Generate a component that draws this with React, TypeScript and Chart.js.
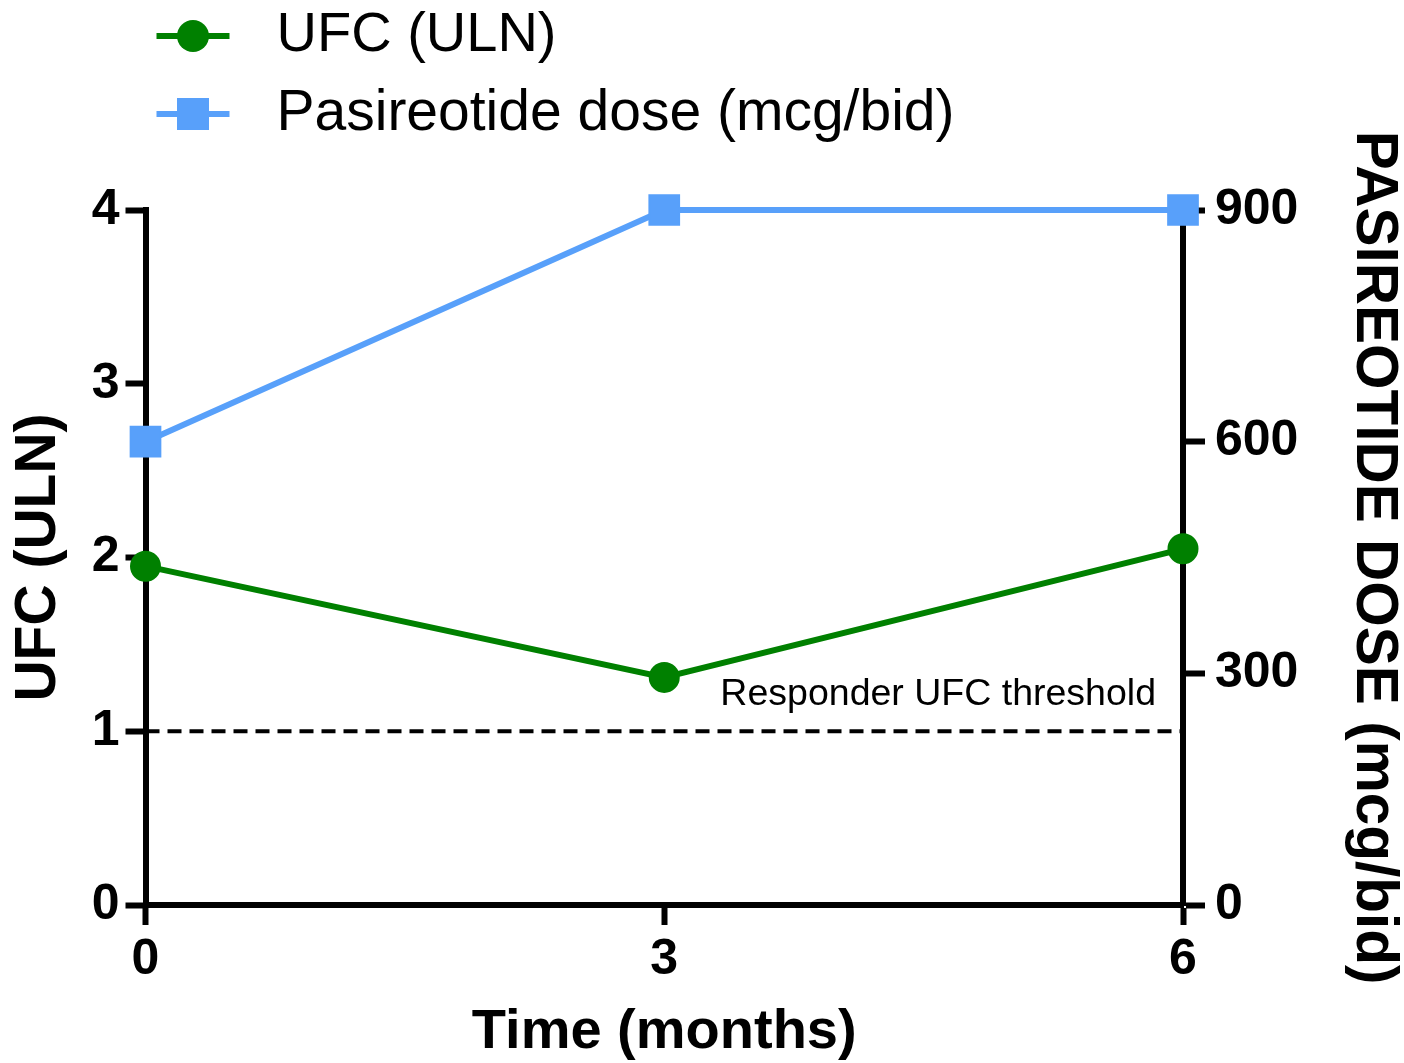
import React, { useEffect, useRef } from 'react';
import { Chart, registerables } from 'chart.js';

Chart.register(...registerables);

// ---- data ----
const months = [0, 3, 6];
const ufcValues = [1.95, 1.31, 2.05];
const doseValues = [600, 900, 900];
const monthTicks = [0, 3, 6];
const ufcTicks = [0, 1, 2, 3, 4];
const doseTicks = [0, 300, 600, 900];
const thresholdValue = 1;
const thresholdLabel = 'Responder UFC threshold';
const seriesLabels = ['UFC (ULN)', 'Pasireotide dose (mcg/bid)'];
const xTitle = 'Time (months)';
const yTitle = 'UFC (ULN)';
const y1Title = 'PASIREOTIDE DOSE (mcg/bid)';

const GREEN = '#008000';
const BLUE = 'rgb(88,160,250)';
const FONT = "'Liberation Sans', Arial, sans-serif";

const legendPlugin = {
  id: 'customLegend',
  afterDraw(chart: any) {
    const { ctx, chartArea } = chart;
    const left = chartArea.left;
    const rows = [36, 114];
    const sizes = [56, 57];
    chart.data.datasets.forEach((ds: any, i: number) => {
      const y = rows[i];
      const x1 = left + 11;
      const x2 = left + 84;
      const cx = (x1 + x2) / 2;
      ctx.save();
      ctx.strokeStyle = ds.borderColor;
      ctx.lineWidth = 6;
      ctx.beginPath();
      ctx.moveTo(x1, y);
      ctx.lineTo(x2, y);
      ctx.stroke();
      ctx.fillStyle = ds.pointBackgroundColor;
      if (ds.pointStyle === 'rect') {
        ctx.fillRect(cx - 16, y - 16, 32, 32);
      } else {
        ctx.beginPath();
        ctx.arc(cx, y, 16, 0, Math.PI * 2);
        ctx.fill();
      }
      ctx.fillStyle = '#000';
      ctx.font = `${sizes[i]}px ${FONT}`;
      ctx.textAlign = 'left';
      ctx.textBaseline = 'middle';
      ctx.fillText(ds.label, left + 131, y);
      ctx.restore();
    });
  },
};

const thresholdPlugin = {
  id: 'threshold',
  beforeDatasetsDraw(chart: any) {
    const { ctx, chartArea, scales } = chart;
    const y = scales.y.getPixelForValue(thresholdValue);
    ctx.save();
    ctx.strokeStyle = '#000';
    ctx.lineWidth = 4;
    ctx.setLineDash([14, 8]);
    ctx.beginPath();
    ctx.moveTo(chartArea.left, y);
    ctx.lineTo(chartArea.right, y);
    ctx.stroke();
    ctx.setLineDash([]);
    ctx.fillStyle = '#000';
    ctx.font = `37.5px ${FONT}`;
    ctx.textAlign = 'right';
    ctx.textBaseline = 'middle';
    ctx.fillText(thresholdLabel, chartArea.right - 27, y - 37);
    ctx.restore();
  },
};

const axisCommon = (tickLength: number) => ({
  grid: {
    display: true,
    drawOnChartArea: false,
    drawTicks: true,
    tickLength,
    tickWidth: 6,
    tickColor: '#000',
    color: '#000',
  },
  border: { display: true, width: 6, color: '#000' },
});

export default function App() {
  const canvasRef = useRef<HTMLCanvasElement | null>(null);

  useEffect(() => {
    document.body.style.margin = '0';
    document.body.style.overflow = 'hidden';
    const canvas = canvasRef.current;
    if (!canvas) return;
    const chart = new Chart(canvas, {
      type: 'line',
      data: {
        datasets: [
          {
            label: seriesLabels[0],
            data: months.map((m, i) => ({ x: m, y: ufcValues[i] })),
            yAxisID: 'y',
            borderColor: GREEN,
            backgroundColor: GREEN,
            pointBackgroundColor: GREEN,
            pointBorderColor: GREEN,
            pointStyle: 'circle',
            pointRadius: 14,
            pointBorderWidth: 3,
            borderWidth: 6,
            tension: 0,
            clip: false,
          } as any,
          {
            label: seriesLabels[1],
            data: months.map((m, i) => ({ x: m, y: doseValues[i] })),
            yAxisID: 'y1',
            borderColor: BLUE,
            backgroundColor: BLUE,
            pointBackgroundColor: BLUE,
            pointBorderColor: BLUE,
            pointStyle: 'rect',
            pointRadius: 21,
            pointBorderWidth: 2,
            borderWidth: 6,
            tension: 0,
            clip: false,
          } as any,
        ],
      },
      options: {
        animation: false,
        responsive: false,
        maintainAspectRatio: false,
        layout: { padding: { top: 210, left: 0, right: 0, bottom: 0 } },
        plugins: {
          legend: { display: false },
          tooltip: { enabled: false },
        },
        scales: {
          x: {
            type: 'linear',
            min: 0,
            max: 6,
            ...axisCommon(20),
            afterBuildTicks: (s: any) => {
              s.ticks = monthTicks.map((v) => ({ value: v }));
            },
            afterFit: (s: any) => {
              s.height = 158;
            },
            ticks: {
              color: '#000',
              font: { family: FONT, size: 50, weight: 'bold' },
              padding: 5,
              maxRotation: 0,
            },
            title: {
              display: true,
              text: xTitle,
              color: '#000',
              font: { family: FONT, size: 56, weight: 'bold', lineHeight: 1 },
              padding: { top: 0, bottom: 2 },
            },
          },
          y: {
            type: 'linear',
            position: 'left',
            min: 0,
            max: 4,
            ...axisCommon(20),
            afterBuildTicks: (s: any) => {
              s.ticks = ufcTicks.map((v) => ({ value: v }));
            },
            afterFit: (s: any) => {
              s.width = 145.5;
            },
            ticks: {
              color: '#000',
              font: { family: FONT, size: 50, weight: 'bold' },
              padding: 6,
            },
            title: {
              display: true,
              text: yTitle,
              color: '#000',
              font: { family: FONT, size: 57, weight: 'bold', lineHeight: 1 },
              padding: { top: 11, bottom: 0 },
            },
          },
          y1: {
            type: 'linear',
            position: 'right',
            min: 0,
            max: 900,
            ...axisCommon(22),
            afterBuildTicks: (s: any) => {
              s.ticks = doseTicks.map((v) => ({ value: v }));
            },
            afterFit: (s: any) => {
              s.width = 221;
            },
            ticks: {
              color: '#000',
              font: { family: FONT, size: 50, weight: 'bold' },
              padding: 10,
            },
            title: {
              display: true,
              text: y1Title,
              color: '#000',
              font: { family: FONT, size: 58.5, weight: 'bold', lineHeight: 1 },
              padding: { top: 2, bottom: 0 },
            },
          },
        },
      } as any,
      plugins: [thresholdPlugin, legendPlugin],
    });
    return () => chart.destroy();
  }, []);

  return (
    <div style={{ position: 'absolute', left: 0, top: 0, width: 1404, height: 1063 }}>
      <canvas ref={canvasRef} width={1404} height={1063} style={{ display: 'block' }} />
    </div>
  );
}
